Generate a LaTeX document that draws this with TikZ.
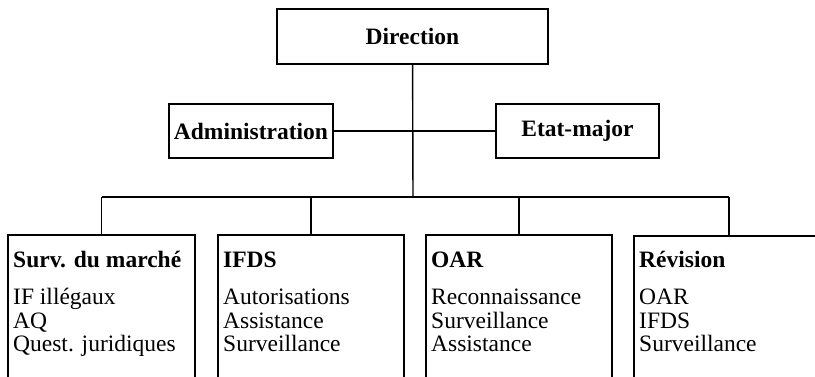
\documentclass[tikz,border=0pt]{standalone}
\usepackage{fontspec}
\setmainfont{Liberation Serif}
\usetikzlibrary{positioning}
\newcommand{\orgfont}{\fontsize{23.5}{23.5}\selectfont}
\tikzset{
    headbox/.style={draw, line width=2pt, inner sep=0pt, font=\orgfont\bfseries},
    unitbox/.style={draw, line width=2pt, inner sep=0pt, minimum height=170, anchor=north west},
    unittext/.style={inner sep=0pt, anchor=base west, font=\orgfont},
}

\begin{document}
\begin{tikzpicture}[
    x=1pt, y=-1pt,
    connection/.style={-, line width=1.4pt}
    ]

    \useasboundingbox (0,0) rectangle (815,377);
    \clip (0,0) rectangle (815,377);

    \node[headbox, minimum width=271, minimum height=55] (direction) at (412.5,36.5) {Direction};
    \node[headbox, minimum width=164, minimum height=54] (admin) at (251,131) {Administration};
    \node[headbox, minimum width=163, minimum height=54] (etat) at (577.5,131) {Etat-major};
    \coordinate (bus) at (413,197);

    \node[unitbox, minimum width=187] (surv) at (7,234) {};
    \node[unitbox, minimum width=186] (ifds) at (217,234) {};
    \node[unitbox, minimum width=186] (oar) at (425,234) {};
    \node[unitbox, minimum width=190] (rev) at (633,235) {};

    \node[unittext] (surv-text) at ([xshift=6pt, yshift=-34pt]surv.north west)
        {\begin{tabular}[t]{@{}l@{}}\textbf{Surv. du marché}\\[13.5pt] IF illégaux\\ AQ\\ Quest. juridiques\end{tabular}};
    \node[unittext] (ifds-text) at ([xshift=6pt, yshift=-34pt]ifds.north west)
        {\begin{tabular}[t]{@{}l@{}}\textbf{IFDS}\\[13.5pt] Autorisations\\ Assistance\\ Surveillance\end{tabular}};
    \node[unittext] (oar-text) at ([xshift=6pt, yshift=-34pt]oar.north west)
        {\begin{tabular}[t]{@{}l@{}}\textbf{OAR}\\[13.5pt] Reconnaissance\\ Surveillance\\ Assistance\end{tabular}};
    \node[unittext] (rev-text) at ([xshift=6pt, yshift=-33pt]rev.north west)
        {\begin{tabular}[t]{@{}l@{}}\textbf{Révision}\\[13.5pt] OAR\\ IFDS\\ Surveillance\end{tabular}};

    \draw[connection] (direction) -- (bus);
    \draw[connection] (admin) -- (etat);
    \draw[connection] (surv.north |- bus) -- (rev.north |- bus);
    \foreach \unit in {surv, ifds, oar, rev}
        \draw[connection] (\unit.north) -- (\unit.north |- bus);

\end{tikzpicture}
\end{document}
